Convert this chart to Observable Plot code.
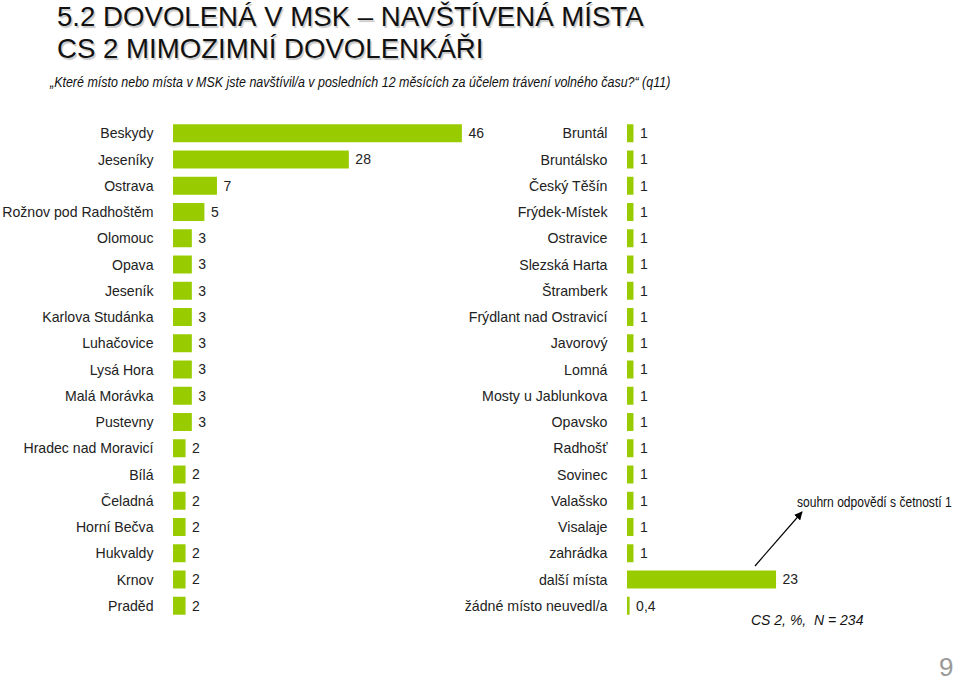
<!DOCTYPE html>
<html><head><meta charset="utf-8">
<script src="https://cdn.jsdelivr.net/npm/d3@7"></script>
<script src="https://cdn.jsdelivr.net/npm/@observablehq/plot@0.6"></script>
<style>
body{margin:0;background:#fff;font-family:"Liberation Sans",Arial,sans-serif;}
#wrap{position:relative;width:960px;height:683px;overflow:hidden;}
.t{position:absolute;left:57px;font-size:28px;color:#111;text-shadow:1.5px 1.5px 1px #c8c8c8;white-space:nowrap;line-height:1;transform:scaleX(0.986);transform-origin:left top;}
#sub{position:absolute;left:50px;top:74px;font-size:14px;font-style:italic;white-space:nowrap;transform:scaleX(0.89);transform-origin:left top;color:#111;}
#p1,#p2{position:absolute;top:100px;}
#p1{left:0}
#p2{left:440px}
#note{position:absolute;left:797px;top:494px;font-size:14px;white-space:nowrap;transform:scaleX(0.86);transform-origin:left top;color:#111;}
#cap{position:absolute;left:751px;top:612px;font-size:14px;font-style:italic;white-space:nowrap;color:#111;}
#pg{position:absolute;left:939px;top:654px;font-size:26px;color:#999;line-height:1;}
#arr{position:absolute;left:0;top:0;}
</style></head>
<body><div id="wrap">
<div class="t" style="top:3px">5.2 DOVOLENÁ V MSK – NAVŠTÍVENÁ MÍSTA</div>
<div class="t" style="top:35px">CS 2 MIMOZIMNÍ DOVOLENKÁŘI</div>
<div id="sub">„Které místo nebo místa v MSK jste navštívil/a v posledních 12 měsících za účelem trávení volného času?“ (q11)</div>
<div id="p1"></div><div id="p2"></div>
<svg id="arr" width="960" height="683"><defs><marker id="ah" viewBox="0 0 10 10" refX="9" refY="5" markerWidth="7" markerHeight="7" orient="auto"><path d="M0,0L10,5L0,10z" fill="#000"/></marker></defs><line x1="755" y1="566" x2="802" y2="512" stroke="#000" stroke-width="1.2" marker-end="url(#ah)"/></svg>
<div id="note">souhrn odpovědí s četností 1</div>
<div id="cap">CS 2, %,&nbsp; N = 234</div>
<div id="pg">9</div>
</div>
<script>
const leftPlaces = ["Beskydy","Jeseníky","Ostrava","Rožnov pod Radhoštěm","Olomouc","Opava","Jeseník","Karlova Studánka","Luhačovice","Lysá Hora","Malá Morávka","Pustevny","Hradec nad Moravicí","Bílá","Čeladná","Horní Bečva","Hukvaldy","Krnov","Praděd"];
const leftValues = [46,28,7,5,3,3,3,3,3,3,3,3,2,2,2,2,2,2,2];
const rightPlaces = ["Bruntál","Bruntálsko","Český Těšín","Frýdek-Místek","Ostravice","Slezská Harta","Štramberk","Frýdlant nad Ostravicí","Javorový","Lomná","Mosty u Jablunkova","Opavsko","Radhošť","Sovinec","Valašsko","Visalaje","zahrádka","další místa","žádné místo neuvedl/a"];
const rightValues = [1,1,1,1,1,1,1,1,1,1,1,1,1,1,1,1,1,23,0.4];

const green = "#99cc00";
function panel(places, values, ml, w, xmax, k, fs){
  const data = places.map((p,i)=>({place:p, value:values[i]}));
  return Plot.plot({
    width:w, height:560, marginLeft:ml, marginRight:10, marginTop:16, marginBottom:37,
    style:{fontFamily:"'Liberation Sans',Arial,sans-serif", fontSize:fs+"px", color:"#222", background:"transparent", overflow:"visible"},
    x:{domain:[0,xmax], range:[ml, ml+xmax*k], axis:null},
    y:{domain:places, padding:0.315, round:false, label:null},
    marks:[
      Plot.axisY({tickSize:0, tickPadding:20, fontSize:fs, label:null}),
      Plot.barX(data,{x:"value", y:"place", fill:green}),
      Plot.text(data,{x:"value", y:"place", text:d=>String(d.value).replace(".",","), textAnchor:"start", dx:6, fontSize:14, fill:"#222"})
    ]
  });
}
document.getElementById("p1").append(panel(leftPlaces, leftValues, 173, 510, 46, 6.28, 14.1));
document.getElementById("p2").append(panel(rightPlaces, rightValues, 187, 520, 23, 6.48, 14.2));
</script>
</body></html>
